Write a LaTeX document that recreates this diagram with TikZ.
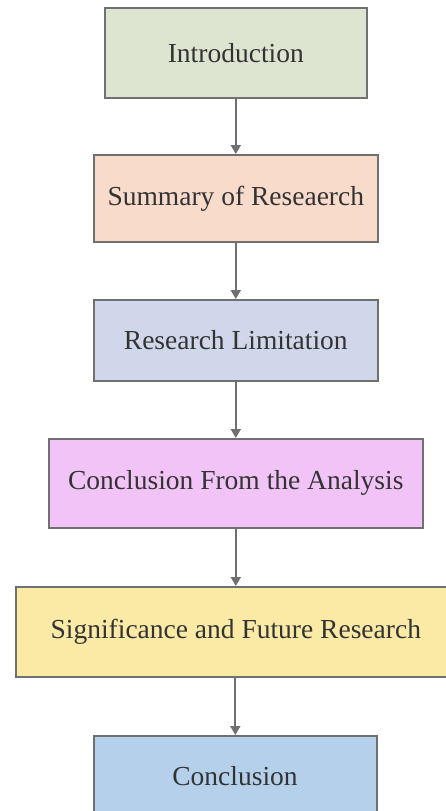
\documentclass[tikz,border=0pt]{standalone}
\usepackage{fontspec}
\setmainfont{Liberation Serif}
\usetikzlibrary{arrows.meta}
\definecolor{edgegray}{HTML}{707070}
\definecolor{textgray}{HTML}{333333}
\definecolor{fillA}{HTML}{DDE5D1}
\definecolor{fillB}{HTML}{F9DBCC}
\definecolor{fillC}{HTML}{D1D7EA}
\definecolor{fillD}{HTML}{F2C3F6}
\definecolor{fillE}{HTML}{FAEAA6}
\definecolor{fillF}{HTML}{B5D0EA}
\tikzset{
  stage/.style={draw=edgegray, line width=1.6pt, rectangle, anchor=north west,
    inner sep=0pt, text=textgray, font=\fontsize{27.5}{32}\selectfont},
  flow/.style={draw=edgegray, line width=1.8pt,
    -{Triangle[length=9pt,width=10pt]}}
}
\begin{document}
\begin{tikzpicture}[x=1pt,y=-1pt]
  \useasboundingbox (0,0) rectangle (446,811);
  \clip (0,0) rectangle (446,811);
  \node[stage, fill=fillA, minimum width=262pt, minimum height=90pt] (intro) at (104,7) {Introduction};
  \node[stage, fill=fillB, minimum width=284pt, minimum height=87pt] (summary) at (93,154) {Summary of Reseaerch};
  \node[stage, fill=fillC, minimum width=284pt, minimum height=81pt] (limit) at (93,299) {Research Limitation};
  \node[stage, fill=fillD, minimum width=374pt, minimum height=89pt] (analysis) at (48,438) {Conclusion From the Analysis};
  \node[stage, fill=fillE, minimum width=440pt, minimum height=90pt] (future) at (15,586) {Significance and Future Research};
  \node[stage, fill=fillF, minimum width=283pt, minimum height=156pt, text depth=0pt] (concl) at (93,735) {};
  \node[text=textgray, font=\fontsize{27.5}{32}\selectfont] (concltext) at (235,776) {Conclusion};
  \draw[flow] (intro.south) -- (summary.north);
  \draw[flow] (summary.south) -- (limit.north);
  \draw[flow] (limit.south) -- (analysis.north);
  \draw[flow] (analysis.south) -- (future.north);
  \draw[flow] (future.south -| concl.north) -- (concl.north);
\end{tikzpicture}
\end{document}
